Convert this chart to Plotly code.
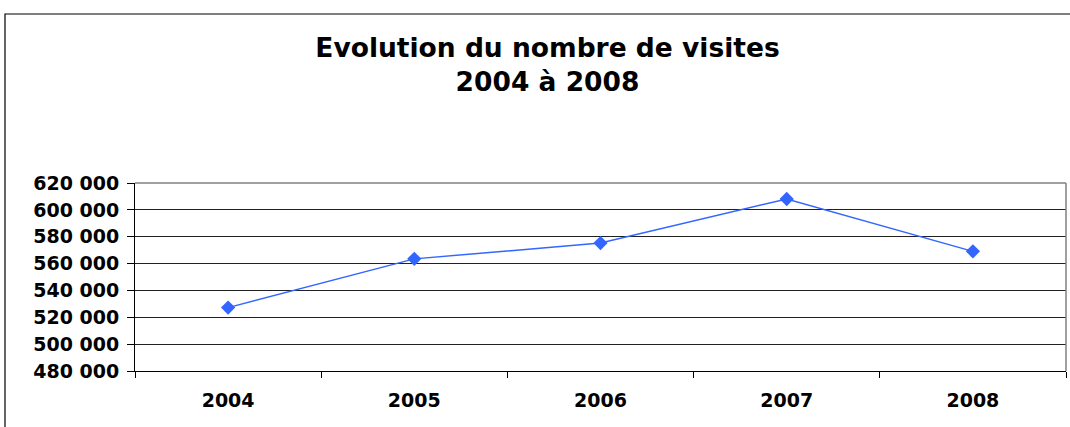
import plotly.graph_objects as go

years = ["2004", "2005", "2006", "2007", "2008"]
visits = [527200, 563500, 575300, 608100, 569100]
y_ticks = [480000, 500000, 520000, 540000, 560000, 580000, 600000, 620000]
y_tick_labels = ["480 000", "500 000", "520 000", "540 000", "560 000", "580 000", "600 000", "620 000"]

W, H = 1070, 427
L, R, T, B = 135, 4, 183, 56
pw, ph = W - L - R, H - T - B
FONT = "DejaVu Sans, Liberation Sans, Arial, sans-serif"

def px(x):
    return (x - L) / pw

def py(y):
    return (H - B - y) / ph

fig = go.Figure()
fig.add_trace(go.Scatter(
    x=years, y=visits, mode="lines+markers",
    line=dict(color="#3366FF", width=1.5),
    marker=dict(symbol="diamond", size=11, color="#3366FF"),
    hoverinfo="x+y",
))

fig.update_layout(
    width=W, height=H,
    margin=dict(l=L, r=R, t=T, b=B),
    paper_bgcolor="white", plot_bgcolor="white",
    showlegend=False,
    font=dict(family=FONT, color="black"),
    title=dict(
        text="<b>Evolution du nombre de visites<br>2004 à 2008</b>",
        x=547.5 / W, xref="container", xanchor="center",
        y=1 - 57 / H, yref="container", yanchor="middle",
        font=dict(size=26.5, family=FONT, color="black"),
    ),
    xaxis=dict(
        type="category", range=[-0.5, 4.5],
        showgrid=False, showline=True, linecolor="black", linewidth=1,
        ticks="outside", tickson="boundaries", ticklen=6, tickcolor="black",
        tickfont=dict(size=19, family=FONT, color="black", weight="bold"),
        ticklabelstandoff=12,
        fixedrange=True,
    ),
    yaxis=dict(
        range=[480000, 620000],
        tickvals=y_ticks, ticktext=y_tick_labels,
        showgrid=True, gridcolor="#202020", gridwidth=1,
        showline=True, linecolor="black", linewidth=1,
        ticks="outside", ticklen=7, tickcolor="black",
        tickfont=dict(size=19, family=FONT, color="black", weight="bold"),
        ticklabelstandoff=4,
        zeroline=False, fixedrange=True,
    ),
    shapes=[
        dict(type="line", xref="paper", yref="paper", x0=0, x1=1, y0=1, y1=1,
             line=dict(color="#808080", width=1.5)),
        dict(type="line", xref="paper", yref="paper", x0=1, x1=1, y0=0, y1=1,
             line=dict(color="#808080", width=1.5)),
        dict(type="rect", xref="paper", yref="paper",
             x0=px(5), x1=px(1080), y0=py(440), y1=py(14),
             line=dict(color="black", width=1.2), layer="above"),
    ],
)

fig.write_html("out.html", config={"displayModeBar": False},
               post_script="document.body.style.margin='0';document.body.style.padding='0';")
